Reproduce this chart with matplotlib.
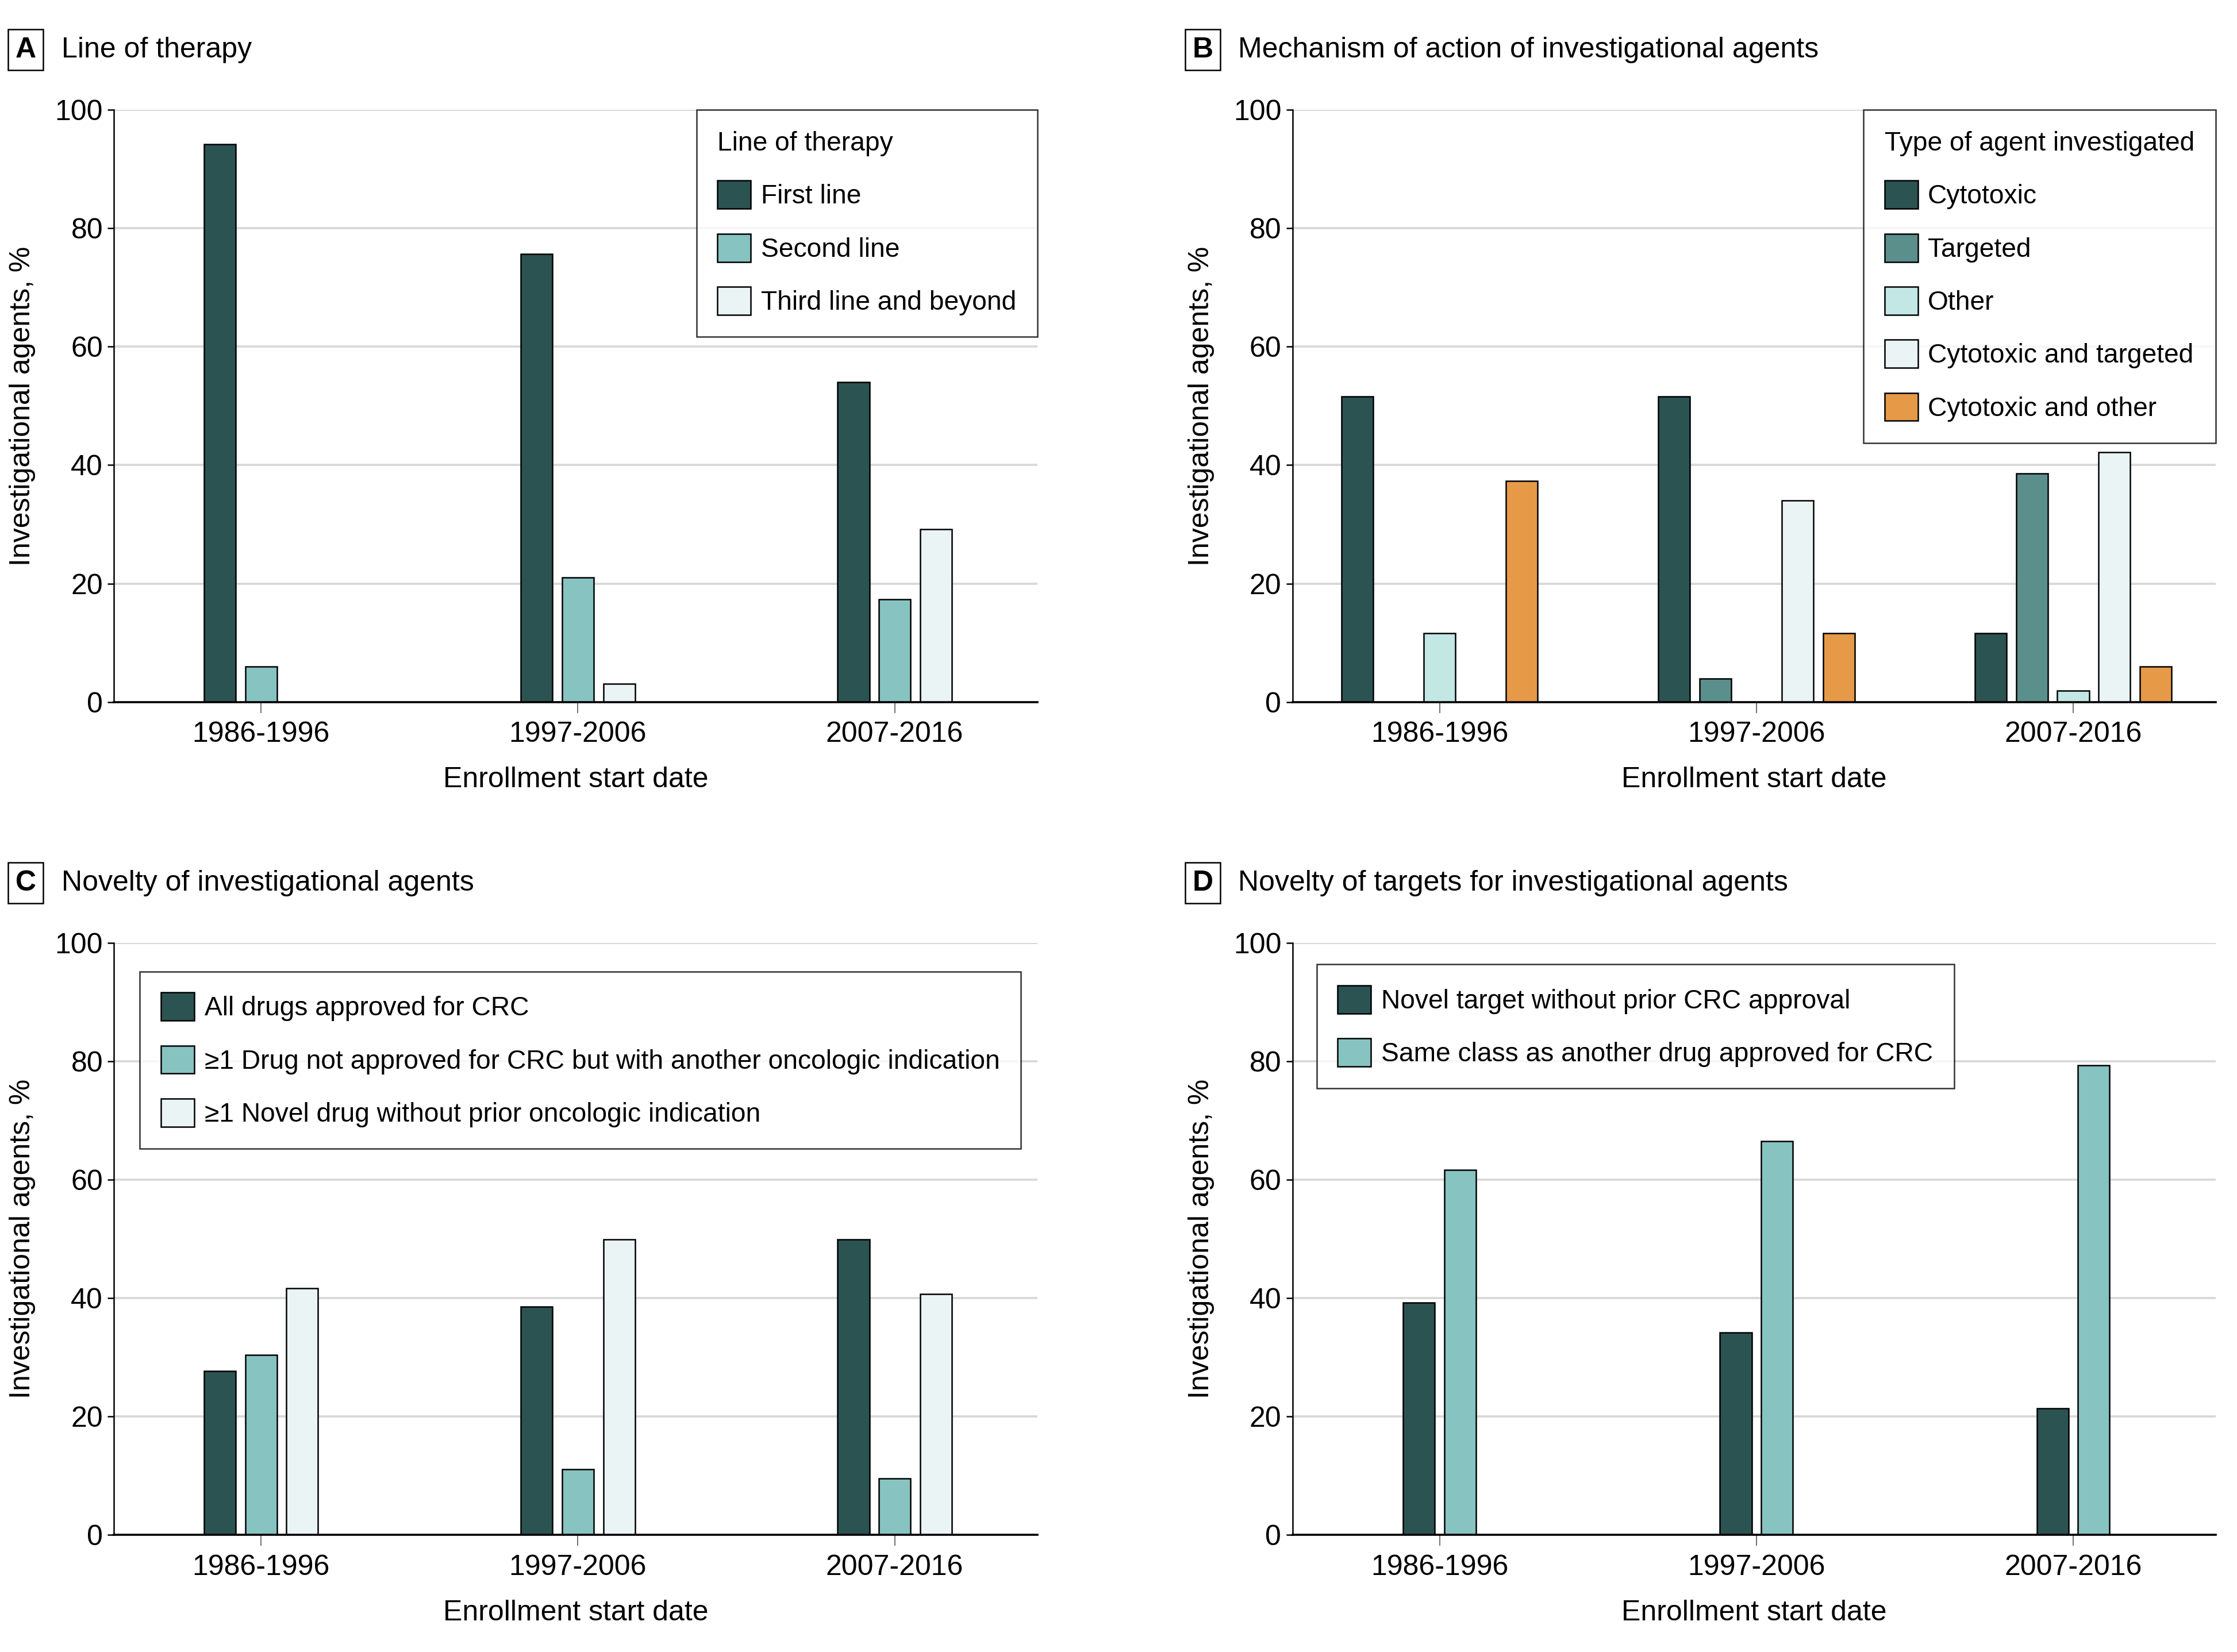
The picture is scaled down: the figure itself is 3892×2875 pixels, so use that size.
import matplotlib
matplotlib.use("Agg")
import matplotlib.pyplot as plt
import numpy as np

plt.rcParams['font.family'] = ['Liberation Sans', 'DejaVu Sans']
plt.rcParams['font.size'] = 18

periods = ["1986-1996", "1997-2006", "2007-2016"]

# A - line of therapy
line_labels = ["First line", "Second line", "Third line and beyond"]
first_line = [94.2, 75.7, 54.0]
second_line = [6.0, 21.0, 17.3]
third_line = [0.0, 3.1, 29.2]

# B - mechanism of action
agent_labels = ["Cytotoxic", "Targeted", "Other", "Cytotoxic and targeted", "Cytotoxic and other"]
cytotoxic = [51.6, 51.6, 11.6]
targeted = [0.0, 3.9, 38.6]
other = [11.6, 0.0, 1.9]
cyto_targeted = [0.0, 34.0, 42.2]
cyto_other = [37.3, 11.6, 6.0]

# C - novelty of agents
novelty_labels = ["All drugs approved for CRC",
                  "\u22651 Drug not approved for CRC but with another oncologic indication",
                  "\u22651 Novel drug without prior oncologic indication"]
all_approved = [27.7, 38.6, 49.9]
other_indication = [30.4, 11.1, 9.6]
novel_drug = [41.7, 49.9, 40.7]

# D - novelty of targets
target_labels = ["Novel target without prior CRC approval",
                 "Same class as another drug approved for CRC"]
novel_target = [39.3, 34.2, 21.4]
same_class = [61.7, 66.5, 79.3]

DARK = '#2B5352'
TEAL = '#5A8F8C'
LTEAL = '#86C3C1'
PALE = '#C2E7E5'
VPALE = '#EAF4F4'
ORANGE = '#E69A47'

LEG_FS = 16.6


def draw_panel(ax, series, labels, colors):
    x = np.arange(len(periods))
    n = len(series)
    for i, (vals, lab, col) in enumerate(zip(series, labels, colors)):
        off = (i - (n - 1) / 2) * 0.13
        ax.bar(x + off, vals, width=0.1, color=col, edgecolor='black',
               linewidth=0.9, label=lab, zorder=2)
    ax.set_xlim(-0.464, 2.45)
    ax.set_ylim(0, 100)
    ax.set_yticks([0, 20, 40, 60, 80, 100])
    ax.set_xticks(x)
    ax.set_xticklabels(periods)
    ax.set_axisbelow(True)
    ax.yaxis.grid(True, color='#D9D9D9', linewidth=1.4)
    ax.spines['top'].set_visible(False)
    ax.spines['right'].set_visible(False)
    ax.spines['left'].set_linewidth(0.9)
    ax.spines['bottom'].set_linewidth(1.3)
    ax.tick_params(axis='y', length=4, width=0.9, pad=3)
    ax.tick_params(axis='x', length=7, width=0.6, pad=5, color='#555555')
    ax.set_xlabel("Enrollment start date", labelpad=12)
    ax.set_ylabel("Investigational agents, %", labelpad=12)


def add_legend(ax, title, loc, anchor):
    leg = ax.legend(title=title, loc=loc, bbox_to_anchor=anchor, frameon=True,
                    fancybox=False, borderaxespad=0, borderpad=0.8,
                    handlelength=1.25, handleheight=1.25, handletextpad=0.38,
                    labelspacing=0.92, fontsize=LEG_FS, title_fontsize=LEG_FS,
                    alignment='left')
    leg.get_frame().set_edgecolor('black')
    leg.get_frame().set_linewidth(0.9)
    return leg


def panel_title(x, y, letter, text):
    fig.text(x, y, letter, fontsize=18, fontweight='bold', ha='center', va='center',
             bbox=dict(boxstyle='square,pad=0.25', fc='white', ec='black', lw=0.9))
    fig.text(x + 0.0159, y, text, fontsize=18, ha='left', va='center')


fig = plt.figure(figsize=(19.46, 14.375), dpi=200)

axA = fig.add_axes([0.0510, 0.5751, 0.4127, 0.3584])
axB = fig.add_axes([0.5778, 0.5751, 0.4127, 0.3584])
axC = fig.add_axes([0.0510, 0.0708, 0.4127, 0.3584])
axD = fig.add_axes([0.5778, 0.0708, 0.4127, 0.3584])

draw_panel(axA, [first_line, second_line, third_line], line_labels, [DARK, LTEAL, VPALE])
add_legend(axA, "Line of therapy", 'upper right', (1.0, 1.0))

draw_panel(axB, [cytotoxic, targeted, other, cyto_targeted, cyto_other], agent_labels,
           [DARK, TEAL, PALE, VPALE, ORANGE])
add_legend(axB, "Type of agent investigated", 'upper right', (1.0, 1.0))

draw_panel(axC, [all_approved, other_indication, novel_drug], novelty_labels, [DARK, LTEAL, VPALE])
add_legend(axC, None, 'upper left', (0.028, 0.952))

draw_panel(axD, [novel_target, same_class], target_labels, [DARK, LTEAL])
add_legend(axD, None, 'upper left', (0.026, 0.964))

panel_title(0.0115, 0.9698, "A", "Line of therapy")
panel_title(0.5376, 0.9698, "B", "Mechanism of action of investigational agents")
panel_title(0.0115, 0.4655, "C", "Novelty of investigational agents")
panel_title(0.5376, 0.4655, "D", "Novelty of targets for investigational agents")

fig.savefig("out.png", dpi=200, facecolor='white')
